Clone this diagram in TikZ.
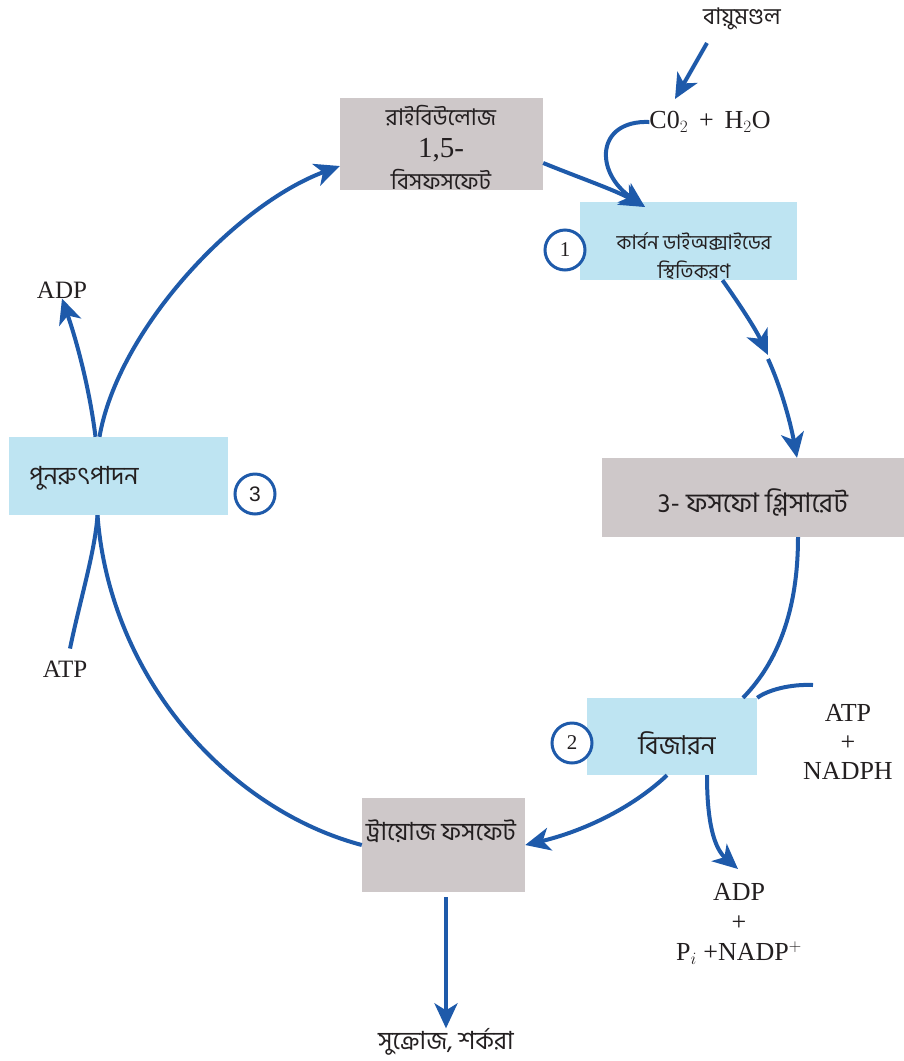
\documentclass[tikz,border=0pt]{standalone}
\usepackage{fontspec}
\setmainfont{Liberation Serif}
\setsansfont{Liberation Sans}
\newfontfamily\bn[Script=Bengali]{Hind Siliguri}
\usetikzlibrary{arrows.meta}
\definecolor{cyc}{RGB}{30,90,170}
\definecolor{boxgrey}{RGB}{206,200,201}
\definecolor{boxsky}{RGB}{190,228,242}
\definecolor{ink}{RGB}{35,31,32}

\begin{document}
\begin{tikzpicture}[x=1pt,y=-1pt,
  greybox/.style={fill=boxgrey,inner sep=0pt},
  skybox/.style={fill=boxsky,inner sep=0pt},
  bntext/.style={text=ink,align=center,inner sep=0pt,font=\bn\fontsize{25}{31}\selectfont},
  chem/.style={text=ink,align=center,inner sep=0pt,font=\fontsize{25}{29}\selectfont},
  num/.style={circle,draw=cyc,line width=3pt,fill=white,minimum size=40pt,inner sep=0pt,
    text=ink,font=\fontsize{21}{21}\selectfont},
  arr/.style={draw=cyc,line width=4pt,-{Stealth[length=25pt,width=23pt,inset=7pt]}},
  flow/.style={draw=cyc,line width=4pt}]
\useasboundingbox (0,0) rectangle (904,1061);

\node[greybox,minimum width=203pt,minimum height=92pt] (rubp) at (441.5,144) {};
\node[bntext,font=\bn\fontsize{23}{32}\selectfont] (rubptxt) at (441,147) {রাইবিউলোজ\\{\rmfamily\fontsize{29}{32}\selectfont 1,5-}\\বিসফসফেট};

\node[skybox,minimum width=217pt,minimum height=78pt] (fix) at (688.5,241) {};
\node[bntext,font=\bn\fontsize{20}{29}\selectfont] (fixtxt) at (694,256) {কার্বন ডাইঅক্সাইডের\\স্থিতিকরণ};
\node[num] (one) at (565,250) {1};

\node[greybox,minimum width=302pt,minimum height=79pt] (pga) at (753,497.5) {};
\node[bntext,font=\bn\fontsize{27}{31}\selectfont] (pgatxt) at (753,503) {3- ফসফো গ্লিসারেট};

\node[skybox,minimum width=170pt,minimum height=77pt] (red) at (672,736.5) {};
\node[bntext,font=\bn\fontsize{26}{31}\selectfont] (redtxt) at (677,743) {বিজারন};
\node[num] (two) at (572,743) {2};

\node[greybox,minimum width=163pt,minimum height=94pt] (triose) at (443.5,845) {};
\node[bntext] (triosetxt) at (441,831) {ট্রায়োজ ফসফেট};

\node[skybox,minimum width=219pt,minimum height=78pt] (regen) at (118.5,476) {};
\node[bntext] (regentxt) at (84,478) {পুনরুৎপাদন};
\node[num,font=\sffamily\fontsize{21}{21}\selectfont] (three) at (255,494) {3};

\node[bntext,font=\bn\fontsize{23}{31}\selectfont] (atm) at (742,19) {বায়ুমণ্ডল};
\node[chem,font=\fontsize{26}{29}\selectfont] (co2) at (710,122) {C0$_2$ \,+\, H$_2$O};
\node[chem] (adpl) at (62,290) {ADP};
\node[chem] (atpl) at (65,669) {ATP};
\node[chem,font=\fontsize{26}{29}\selectfont] (atpr) at (848,742) {ATP\\+\\NADPH};
\node[chem,font=\fontsize{26}{30}\selectfont] (adpr) at (739,924) {ADP\\+\\P$_{i}$ +NADP$^{+}$};
\node[bntext] (suc) at (446,1042) {সুক্রোজ, শর্করা};

\coordinate (atmfoot) at (707,43);
\coordinate (co2head) at (675,99);
\coordinate (fixin) at (645,207);
\coordinate (pgamid) at (768,355);
\coordinate (atpfoot) at (813,685);
\coordinate (adpout) at (738,869);

\draw[arr] (atmfoot) -- (co2head);
\draw[arr] (co2.west) .. controls (596,120) and (594,172) .. (fixin);
\draw[arr] ([yshift=-19pt]rubp.east) .. controls (580,178) and (615,190) .. (fixin);

\draw[arr] ([xshift=34pt]fix.south) .. controls (740,305) and (755,328) .. (pgamid);
\draw[arr] ([yshift=-4pt]pgamid) .. controls (780,385) and (790,420) .. ([xshift=44pt]pga.north);

\draw[flow] ([xshift=45pt]pga.south) .. controls (798,620) and (772,668) .. ([xshift=71pt]red.north);
\draw[flow] (atpfoot) .. controls (790,684) and (768,690) .. (red.north east);

\draw[arr] ([xshift=-5pt]red.south) .. controls (630,810) and (580,832) .. (triose.east);
\draw[arr] ([xshift=35pt]red.south) .. controls (707,822) and (714,848) .. (adpout);

\draw[arr] (triose.south -| suc) ++(0,5) -- (suc.north);

\draw[flow] (triose.west) .. controls (230,810) and (110,680) .. ([xshift=-21pt]regen.south);
\draw[flow] (atpl.north) ++(5,-12) .. controls (80,600) and (95,552) .. ([xshift=-21pt]regen.south);

\draw[arr] ([xshift=-23pt]regen.north) .. controls (90,392) and (78,345) .. (adpl.south);
\draw[arr] ([xshift=-19pt]regen.north) .. controls (118,330) and (235,205) .. ([yshift=-22pt]rubp.west);
\end{tikzpicture}
\end{document}
